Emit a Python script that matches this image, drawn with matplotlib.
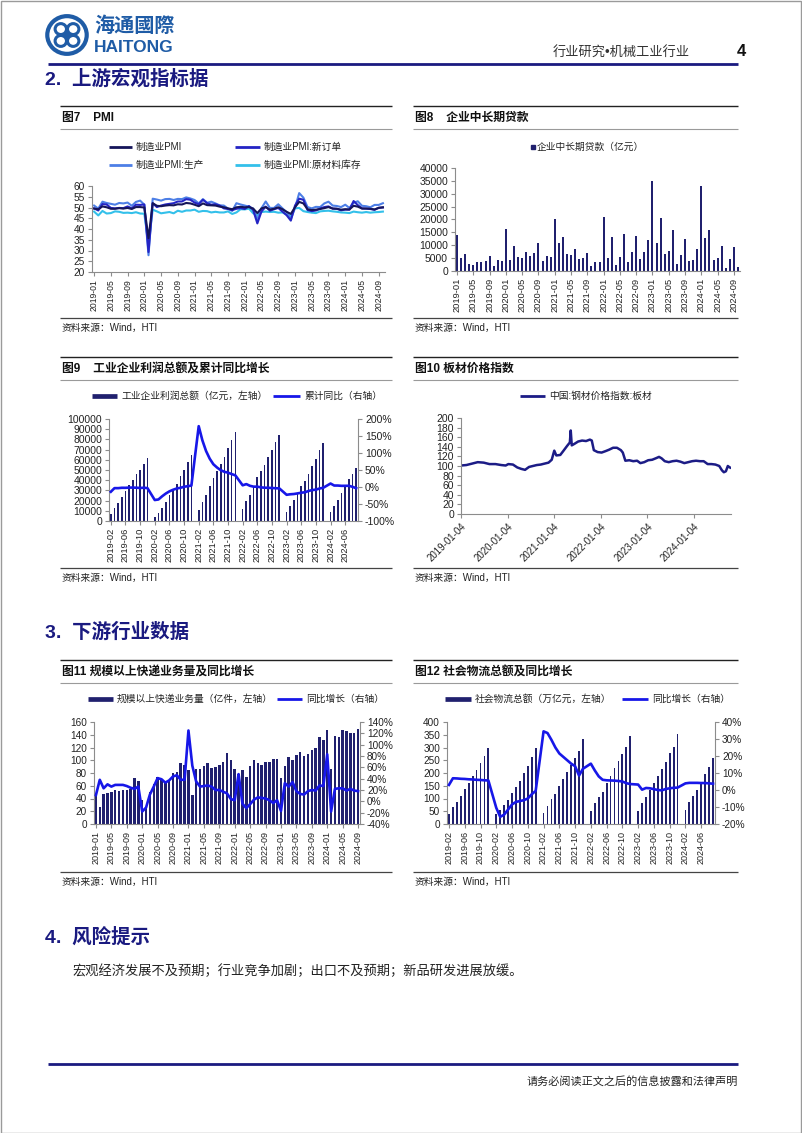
import numpy as np
import pandas as pd
import matplotlib
matplotlib.use('Agg')
import matplotlib.pyplot as plt
from matplotlib.lines import Line2D
from matplotlib.patches import Circle, Rectangle

W, H = 802, 1133
NAVY = '#1a1a80'
BAR = '#20206e'
LINE_BLUE = '#1717e8'
AXIS_GRAY = '#8c8c8c'
TXT = '#222222'

plt.rcParams['font.family'] = ['Liberation Sans', 'Noto Sans CJK SC']
plt.rcParams['axes.unicode_minus'] = False

# ---------------- data ----------------
# Fig 7 PMI, 2019-01 .. 2024-10
pmi_months = pd.period_range('2019-01', '2024-10', freq='M').strftime('%Y-%m').tolist()
pmi = [49.5, 49.2, 50.5, 50.1, 49.4, 49.4, 49.7, 49.5, 49.8, 49.3, 50.2, 50.2,
       50.0, 35.7, 52.0, 50.8, 50.6, 50.9, 51.1, 51.0, 51.5, 51.4, 52.1, 51.9,
       51.3, 50.6, 51.9, 51.1, 51.0, 50.9, 50.4, 50.1, 49.6, 49.2, 50.1, 50.3,
       50.1, 50.2, 49.5, 47.4, 49.6, 50.2, 49.0, 49.4, 50.1, 49.2, 48.0, 47.0,
       50.1, 52.6, 51.9, 49.2, 48.8, 49.0, 49.3, 49.7, 50.2, 49.5, 49.4, 49.0,
       49.2, 49.1, 50.8, 50.4, 49.5, 49.5, 49.4, 49.1, 49.8, 50.1]
pmi_new_orders = [49.6, 48.6, 51.6, 51.4, 49.8, 49.6, 49.8, 49.7, 50.5, 49.6, 51.3, 51.2,
                  51.4, 29.3, 52.0, 50.2, 50.9, 51.4, 51.7, 52.0, 52.8, 52.8, 53.9, 53.6,
                  52.3, 51.5, 53.6, 52.0, 51.3, 51.5, 50.9, 49.6, 49.3, 48.8, 49.4, 49.7,
                  49.3, 50.7, 48.8, 42.6, 48.2, 50.4, 48.5, 49.2, 49.8, 48.1, 46.4, 43.9,
                  50.9, 54.1, 53.6, 48.8, 48.3, 48.6, 49.5, 50.2, 50.5, 49.5, 49.4, 48.7,
                  49.0, 49.0, 53.0, 51.1, 49.6, 49.5, 49.3, 48.9, 49.9, 50.0]
pmi_production = [50.9, 49.5, 52.7, 52.1, 51.7, 51.3, 52.1, 51.9, 52.3, 50.8, 52.6, 53.2,
                  51.3, 27.8, 54.1, 53.7, 53.2, 53.9, 54.0, 53.5, 54.0, 53.9, 54.7, 54.2,
                  53.5, 51.9, 53.9, 52.2, 52.7, 51.9, 51.0, 50.9, 49.5, 48.4, 52.0, 51.4,
                  50.9, 50.4, 49.5, 44.4, 49.7, 52.8, 49.8, 49.8, 51.5, 49.6, 47.8, 44.6,
                  49.8, 56.7, 54.6, 50.2, 49.6, 50.3, 50.2, 51.9, 52.7, 50.9, 50.7, 50.2,
                  51.3, 49.8, 52.2, 52.9, 50.8, 50.6, 50.1, 51.2, 51.2, 52.0]
pmi_raw_inventory = [48.1, 46.3, 48.4, 47.2, 47.4, 48.2, 48.0, 47.5, 47.6, 47.4, 47.8, 47.2,
                     47.1, 32.9, 49.0, 48.2, 47.3, 47.6, 47.9, 47.3, 48.5, 48.0, 48.6, 48.6,
                     49.0, 48.0, 48.4, 48.3, 47.7, 48.0, 47.7, 47.7, 48.2, 47.0, 47.7, 49.2,
                     49.1, 49.5, 47.3, 46.5, 47.9, 48.1, 47.9, 48.0, 47.6, 47.7, 46.7, 46.1,
                     49.6, 49.8, 48.3, 47.9, 47.6, 47.4, 48.2, 48.4, 48.5, 48.2, 48.0, 47.7,
                     47.6, 47.4, 48.1, 47.8, 47.6, 47.9, 47.6, 47.8, 47.9, 48.1]

# Fig 8 corporate mid/long-term loans (100m yuan), 2019-01 .. 2024-10
loan_months = pmi_months
loan_values = [14000, 5000, 6500, 2800, 2500, 3500, 3500, 4000, 5800, 2000, 4200, 4000,
               16500, 4200, 9700, 5300, 5000, 7400, 6000, 7000, 10800, 4000, 5800, 5400,
               20300, 11000, 13300, 6600, 6400, 8500, 4800, 5000, 7000, 2000, 3400, 3400,
               20800, 5000, 13300, 2500, 5300, 14500, 3400, 7400, 13600, 4500, 7300, 11900,
               34800, 10900, 20500, 6600, 7600, 15800, 2600, 6300, 12500, 3800, 4300, 8500,
               33100, 12700, 15800, 4200, 4900, 9700, 1300, 4800, 9300, 1500]

# Fig 9 industrial profits (cumulative), 2019-02 .. 2024-09, January empty
nan = np.nan
profit_months = pd.period_range('2019-02', '2024-09', freq='M').strftime('%Y-%m').tolist()
profit_total = [7080, 12676, 18124, 23791, 29840, 35298, 40164, 45933, 50152, 56100, 61996,
                nan, 4107, 7815, 12665, 18529, 25115, 31022, 36726, 43665, 50125, 58262, 64516,
                nan, 11140, 18253, 25944, 34247, 42183, 49240, 56051, 63200, 71649, 79750, 87092,
                nan, 11575, 19671, 25283, 34410, 42702, 48929, 55254, 62442, 69769, 77180, 84039,
                nan, 8872, 15167, 20328, 26688, 33884, 39439, 46558, 54119, 61154, 69822, 76858,
                nan, 9140, 15055, 20946, 27543, 35110, 40991, 46527, 52281]
profit_yoy = [-14.0, -3.3, -3.4, -2.3, -2.4, -1.7, -1.7, -2.1, -2.9, -2.1, -3.3,
              nan, -38.3, -36.7, -27.4, -19.3, -12.8, -8.1, -4.4, -2.4, 0.7, 2.4, 4.1,
              nan, 178.9, 137.3, 106.0, 83.4, 66.9, 57.3, 49.5, 44.7, 42.2, 38.0, 34.3,
              nan, 5.0, 8.5, 3.5, 1.0, 1.0, -1.1, -2.1, -2.3, -3.0, -3.6, -4.0,
              nan, -22.9, -21.4, -20.6, -18.8, -16.8, -15.5, -11.7, -9.0, -7.8, -4.4, -2.3,
              nan, 10.2, 4.3, 4.3, 3.4, 3.5, 3.6, 0.5, -3.5]

# Fig 10 steel plate price index
steel_dates = ['2019-01-04', '2019-02-15', '2019-04-01', '2019-05-15', '2019-07-01', '2019-08-15',
               '2019-10-01', '2019-11-15', '2019-12-20', '2020-01-10', '2020-02-15', '2020-03-20',
               '2020-04-20', '2020-05-20', '2020-06-20', '2020-07-20', '2020-08-20', '2020-09-20',
               '2020-10-20', '2020-11-20', '2020-12-15', '2021-01-04', '2021-01-20', '2021-02-20',
               '2021-03-15', '2021-04-15', '2021-05-06', '2021-05-13', '2021-05-21', '2021-06-10',
               '2021-07-10', '2021-08-10', '2021-09-10', '2021-10-10', '2021-10-25', '2021-11-10',
               '2021-12-10', '2022-01-10', '2022-02-10', '2022-03-10', '2022-04-10', '2022-05-10',
               '2022-06-10', '2022-06-25', '2022-07-15', '2022-08-15', '2022-09-15', '2022-10-15',
               '2022-11-10', '2022-12-10', '2023-01-10', '2023-02-10', '2023-03-10', '2023-04-05',
               '2023-04-25', '2023-05-20', '2023-06-20', '2023-07-20', '2023-08-20', '2023-09-20',
               '2023-10-20', '2023-11-20', '2023-12-20', '2024-01-20', '2024-02-20', '2024-03-20',
               '2024-04-20', '2024-05-20', '2024-06-20', '2024-07-20', '2024-08-10', '2024-08-25',
               '2024-09-10', '2024-09-25', '2024-10-10', '2024-10-20']
steel_index = [101, 102, 105, 108, 107, 104, 104, 102, 101, 104, 103, 97,
               94, 92, 98, 100, 102, 103, 105, 107, 113, 132, 122, 123,
               131, 142, 149, 174, 143, 146, 151, 153, 152, 155, 153, 133,
               129, 128, 131, 134, 138, 138, 133, 128, 111, 112, 110, 111,
               106, 108, 112, 113, 116, 119, 116, 110, 108, 110, 111, 109,
               106, 108, 110, 111, 110, 110, 104, 104, 103, 100, 91, 87,
               89, 100, 97, 96]
steel_ticks = ['2019-01-04', '2020-01-04', '2021-01-04', '2022-01-04', '2023-01-04', '2024-01-04']

# Fig 11 express delivery volume, 2019-01 .. 2024-09
express_months = pd.period_range('2019-01', '2024-09', freq='M').strftime('%Y-%m').tolist()
express_volume = [45, 27, 47, 48.6, 50.7, 52.8, 52, 53, 53, 55, 72, 67,
                  38, 26, 50, 62, 74, 70, 67, 68, 80, 81, 96, 92,
                  84, 45, 87, 86, 91.5, 96, 88, 89, 93, 98, 112, 101,
                  87, 79, 84, 74, 91.5, 101, 95, 93, 97, 97, 102, 102,
                  72, 91.5, 105, 101, 108, 113, 107, 110, 115.5, 120, 136, 132,
                  147, 86, 138, 136, 148, 146, 143, 143, 149]
express_yoy = [11, 38, 23, 30, 26, 29, 29, 29, 27, 24, 22, 26,
               -18, -11, 12, 26, 41, 39, 33, 37, 44, 46, 38, 38,
               125, 63, 35, 26, 27, 28, 26, 20, 20, 17, 14, 4,
               2, 48, -4, -12, -5, 3, 7, 6, 5, 2, -3, 2,
               -17, 32, 26, 34, 18, 13, 12, 18, 20, 19, 28, 27,
               83, -18, 22, 23, 23, 19, 22, 19, 18]

# Fig 12 social logistics total (cumulative), 2019-02 .. 2024-09, January empty
logi_months = profit_months
logi_total = [40, 65, 88, 111, 137, 160, 187, 212, 240, 268, 298,
              nan, 38, 55, 75, 94, 120, 146, 169, 199, 229, 264, 300,
              nan, 42, 72, 97, 118, 150, 176, 203, 231, 260, 286, 335,
              nan, 51, 84, 107, 127, 159, 188, 218, 247, 273, 301, 347,
              nan, 52, 84, 107, 133, 159, 188, 216, 244, 277, 303, 352,
              nan, 55, 85, 110, 133, 159, 195, 225, 258]
logi_yoy = [3.0, 6.9, 6.8, 6.6, 6.5, 6.3, 6.2, 6.0, 5.9, 5.7, 5.6,
            nan, -10.5, -15.8, -14.5, -11.5, -8.5, -7.0, -6.5, -6.0, -5.0, -2.5, -0.5,
            nan, 34.5, 33.5, 29.5, 25.0, 21.5, 19.5, 17.5, 15.5, 14.0, 8.5, 12.5,
            nan, 15.5, 11.5, 8.0, 6.0, 5.7, 5.6, 5.5, 5.3, 5.0, 4.0, 3.5,
            nan, 3.2, 0.2, 1.2, 1.0, 0.5, 0.0, -0.2, 0.6, 1.0, 1.3, 1.4,
            nan, 3.9, 4.2, 4.2, 4.2, 4.1, 4.1, 3.9, 3.7]

# ---------------- helpers (pixel coordinates, y from top) ----------------
fig = plt.figure(figsize=(W / 100, H / 100), dpi=100)
fig.patch.set_facecolor('white')


def axes_px(x0, y0, x1, y1):
    return fig.add_axes([x0 / W, 1 - y1 / H, (x1 - x0) / W, (y1 - y0) / H])


def text_px(x, y, s, **kw):
    kw.setdefault('va', 'center')
    fig.text(x / W, 1 - y / H, s, **kw)


def hline_px(x0, x1, y, color, lw):
    fig.add_artist(Line2D([x0 / W, x1 / W], [1 - y / H, 1 - y / H], color=color, lw=lw,
                          solid_capstyle='butt'))


def legend_item(x0, x1, y, color, lw, label, size=7):
    hline_px(x0, x1, y, color, lw)
    text_px(x1 + 4, y, label, fontsize=size, color=TXT)


def style_axis(ax, ysize=7):
    for s in ['top', 'right']:
        ax.spines[s].set_visible(False)
    for s in ['left', 'bottom']:
        ax.spines[s].set_color(AXIS_GRAY)
        ax.spines[s].set_linewidth(0.8)
    ax.tick_params(axis='both', colors=AXIS_GRAY, labelcolor=TXT, length=3, width=0.8)
    ax.tick_params(axis='y', labelsize=ysize, pad=2)
    ax.tick_params(axis='x', pad=2)


def style_right(ax2, size=7):
    for s in ['top', 'left', 'bottom']:
        ax2.spines[s].set_visible(False)
    ax2.spines['right'].set_color(AXIS_GRAY)
    ax2.spines['right'].set_linewidth(0.8)
    ax2.tick_params(axis='y', colors=AXIS_GRAY, labelcolor=TXT, labelsize=size, length=3,
                    width=0.8, pad=2)


def month_axis(ax, labels, size=6.3):
    pos = np.arange(len(labels))
    ax.set_xticks(pos[::4])
    ax.set_xticklabels(labels[::4], rotation=90, fontsize=size)
    ax.set_xlim(-0.5, len(labels) - 0.5)


def panel(x0, x1, y_top, y_bottom, title):
    hline_px(x0, x1, y_top, '#222222', 1.0)
    text_px(x0 + 2, y_top + 11.5, title, fontsize=8.5, fontweight='bold', color='#111111')
    hline_px(x0, x1, y_top + 22.5, '#9a9a9a', 0.8)
    hline_px(x0, x1, y_bottom, '#444444', 0.9)
    text_px(x0 + 2, y_bottom + 10, '资料来源：Wind，HTI', fontsize=7, color=TXT)


# ---------------- page furniture ----------------
fig.add_artist(Rectangle((0.5 / W, 0.5 / H), 1 - 1.5 / W, 1 - 1.5 / H, transform=fig.transFigure,
                         fill=False, edgecolor='#9a9a9a', lw=1))

logo_blue = '#1f5ca6'
ax_logo = axes_px(44, 13, 90, 57)
ax_logo.set_xlim(-1.05, 1.05)
ax_logo.set_ylim(-1.05, 1.05)
ax_logo.axis('off')
ax_logo.add_patch(Circle((0, 0), 0.9, fill=False, lw=3.0, color=logo_blue))
for k in range(4):
    a = np.deg2rad(45 + 90 * k)
    ax_logo.add_patch(Circle((0.4 * np.cos(a), 0.4 * np.sin(a)), 0.26, fill=False, lw=2.2,
                             color=logo_blue))
ax_logo.add_patch(Circle((0, 0), 0.1, color=logo_blue))
text_px(94, 25, '海通國際', fontsize=14.5, fontweight='bold', color=logo_blue,
        family=['Noto Sans CJK SC'])
text_px(94, 47, 'HAITONG', fontsize=12.5, fontweight='bold', color=logo_blue)

text_px(690, 53, '行业研究•机械工业行业', fontsize=9.5, color='#333333', ha='right')
text_px(741, 51, '4', fontsize=12, fontweight='bold', color='#111111', ha='center')
hline_px(48, 738, 64, NAVY, 2.0)

text_px(45, 79, '2.  上游宏观指标据', fontsize=14, fontweight='bold', color=NAVY)
text_px(45, 632, '3.  下游行业数据', fontsize=14, fontweight='bold', color=NAVY)
text_px(45, 937, '4.  风险提示', fontsize=14, fontweight='bold', color=NAVY)
text_px(72, 971, '宏观经济发展不及预期；行业竞争加剧；出口不及预期；新品研发进展放缓。',
        fontsize=9.5, color=TXT)
hline_px(48, 738, 1064, NAVY, 2.0)
text_px(738, 1081, '请务必阅读正文之后的信息披露和法律声明', fontsize=8, color=TXT, ha='right')

# panels
panel(60, 392, 106, 318, '图7    PMI')
panel(413, 738, 106, 318, '图8    企业中长期贷款')
panel(60, 392, 357, 568, '图9    工业企业利润总额及累计同比增长')
panel(413, 738, 357, 568, '图10 板材价格指数')
panel(60, 392, 660, 872, '图11 规模以上快递业务量及同比增长')
panel(413, 738, 660, 872, '图12 社会物流总额及同比增长')

# ---------------- Fig 7 ----------------
ax7 = axes_px(92, 186, 385, 272)
x7 = np.arange(len(pmi_months))
c_pmi, c_new, c_prod, c_inv = '#15155a', '#2424c4', '#4d7fe6', '#33c0ea'
ax7.plot(x7, pmi_raw_inventory, color=c_inv, lw=1.5)
ax7.plot(x7, pmi_production, color=c_prod, lw=1.5)
ax7.plot(x7, pmi_new_orders, color=c_new, lw=1.5)
ax7.plot(x7, pmi, color=c_pmi, lw=1.5)
ax7.set_ylim(20, 60)
ax7.set_yticks(np.arange(20, 61, 5))
style_axis(ax7, 7.3)
month_axis(ax7, pmi_months, 6.2)
legend_item(109, 132, 147, c_pmi, 2.0, '制造业PMI')
legend_item(235, 260, 147, c_new, 2.0, '制造业PMI:新订单')
legend_item(109, 132, 165, c_prod, 2.0, '制造业PMI:生产')
legend_item(235, 260, 165, c_inv, 2.0, '制造业PMI:原材料库存')

# ---------------- Fig 8 ----------------
ax8 = axes_px(455, 168, 740, 271)
x8 = np.arange(len(loan_months))
ax8.bar(x8, loan_values, width=0.5, color=BAR)
ax8.set_ylim(0, 40000)
ax8.set_yticks(np.arange(0, 40001, 5000))
style_axis(ax8, 7.5)
month_axis(ax8, loan_months, 6.7)
fig.add_artist(Line2D([533 / W], [1 - 147 / H], marker='s', ms=3.2, color=BAR, linestyle='none'))
text_px(537, 147, '企业中长期贷款（亿元）', fontsize=7, color=TXT)

# ---------------- Fig 9 ----------------
ax9 = axes_px(109, 419, 358, 521)
x9 = np.arange(len(profit_months))
ax9.bar(x9, profit_total, width=0.45, color=BAR)
ax9.set_ylim(0, 100000)
ax9.set_yticks(np.arange(0, 100001, 10000))
style_axis(ax9, 7.5)
month_axis(ax9, profit_months, 6.7)
ax9b = ax9.twinx()
yoy9 = pd.Series(profit_yoy, index=x9).dropna()
ax9b.plot(yoy9.index, yoy9.values, color=LINE_BLUE, lw=1.9)
ax9b.set_ylim(-100, 200)
ax9b.set_yticks(np.arange(-100, 201, 50))
ax9b.set_yticklabels([f'{v}%' for v in range(-100, 201, 50)])
style_right(ax9b, 7.5)
legend_item(92, 117, 396, BAR, 3.4, '工业企业利润总额（亿元，左轴）')
legend_item(273, 300, 396, LINE_BLUE, 2.0, '累计同比（右轴）')

# ---------------- Fig 10 ----------------
ax10 = axes_px(461, 418, 731, 514)
d10 = pd.to_datetime(steel_dates)
ax10.plot(d10, steel_index, color='#1c1c86', lw=1.8)
ax10.set_ylim(0, 200)
ax10.set_yticks(np.arange(0, 201, 20))
ax10.set_xlim(d10[0], d10[-1])
style_axis(ax10, 7.5)
ax10.set_xticks(pd.to_datetime(steel_ticks))
ax10.set_xticklabels(steel_ticks, rotation=45, ha='right', rotation_mode='anchor', fontsize=7)
legend_item(520, 545, 396, '#1c1c86', 2.0, '中国:钢材价格指数:板材')

# ---------------- Fig 11 ----------------
ax11 = axes_px(94, 722, 360, 824)
x11 = np.arange(len(express_months))
ax11.bar(x11, express_volume, width=0.65, color=BAR)
ax11.set_ylim(0, 160)
ax11.set_yticks(np.arange(0, 161, 20))
style_axis(ax11, 7.2)
month_axis(ax11, express_months, 6.5)
ax11b = ax11.twinx()
ax11b.plot(x11, express_yoy, color=LINE_BLUE, lw=1.9)
ax11b.set_ylim(-40, 140)
ax11b.set_yticks(np.arange(-40, 141, 20))
ax11b.set_yticklabels([f'{v}%' for v in range(-40, 141, 20)])
style_right(ax11b, 7.2)
legend_item(88, 113, 699, BAR, 3.4, '规模以上快递业务量（亿件，左轴）')
legend_item(277, 302, 699, LINE_BLUE, 2.0, '同比增长（右轴）')

# ---------------- Fig 12 ----------------
ax12 = axes_px(447, 722, 715, 824)
x12 = np.arange(len(logi_months))
ax12.bar(x12, logi_total, width=0.45, color=BAR)
ax12.set_ylim(0, 400)
ax12.set_yticks(np.arange(0, 401, 50))
style_axis(ax12, 7.2)
month_axis(ax12, logi_months, 6.5)
ax12b = ax12.twinx()
yoy12 = pd.Series(logi_yoy, index=x12).dropna()
ax12b.plot(yoy12.index, yoy12.values, color=LINE_BLUE, lw=1.9)
ax12b.set_ylim(-20, 40)
ax12b.set_yticks(np.arange(-20, 41, 10))
ax12b.set_yticklabels([f'{v}%' for v in range(-20, 41, 10)])
style_right(ax12b, 7.2)
legend_item(445, 471, 699, BAR, 3.4, '社会物流总额（万亿元，左轴）')
legend_item(622, 648, 699, LINE_BLUE, 2.0, '同比增长（右轴）')

fig.savefig('out.png', dpi=100)
